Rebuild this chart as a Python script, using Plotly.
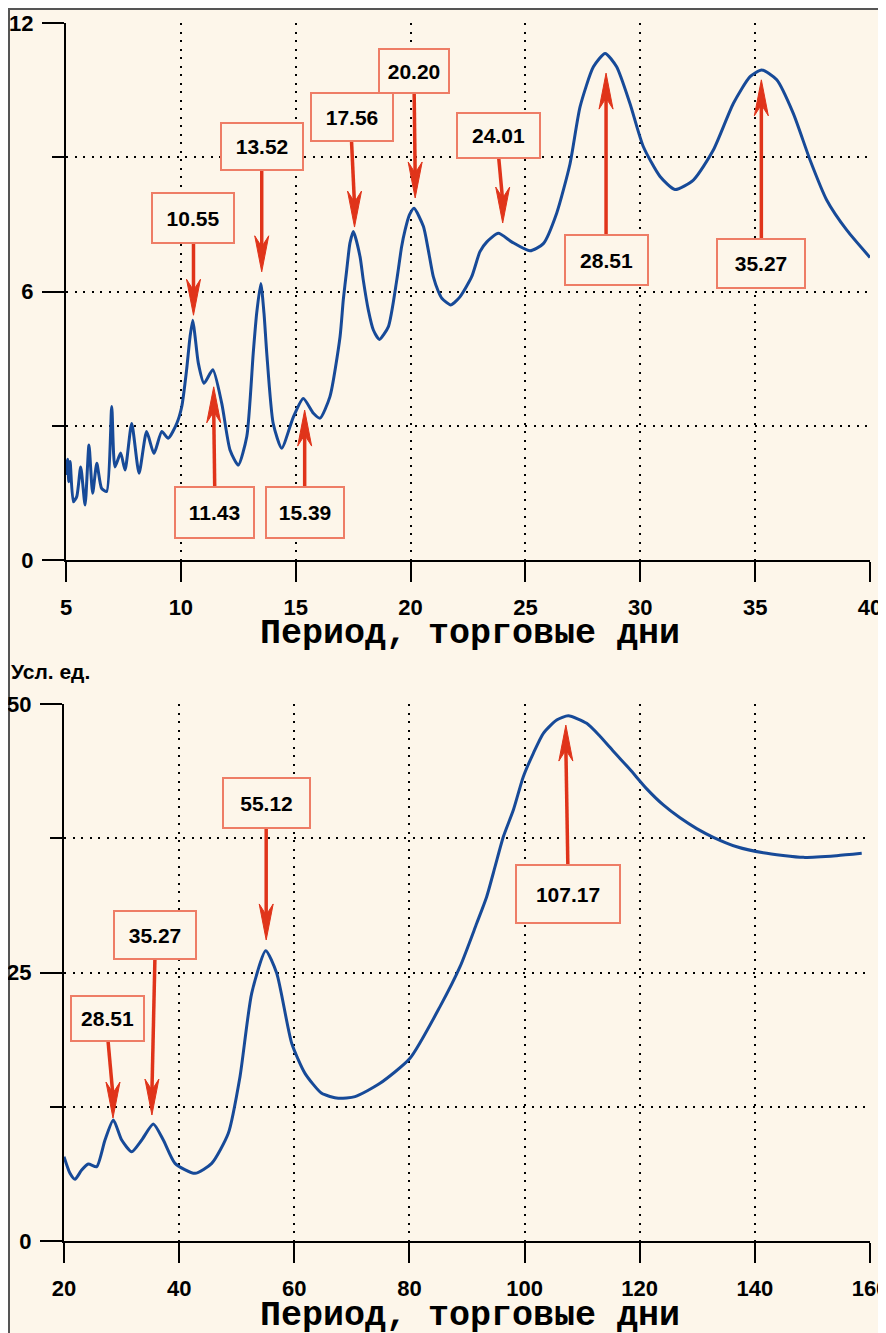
import plotly.graph_objects as go

# ---------------- data ----------------
top_period = [5.00, 5.07, 5.12, 5.18, 5.32, 5.47, 5.64, 5.83, 6.00, 6.16, 6.34, 6.55, 6.77,
              6.99, 7.13, 7.38, 7.57, 7.86, 8.18, 8.51, 8.83, 9.17, 9.45, 9.82, 10.04,
              10.25, 10.40, 10.52, 10.62, 10.76, 11.01, 11.39, 11.78, 12.14, 12.50, 12.87,
              13.15, 13.30, 13.48, 13.62, 13.74, 14.02, 14.39, 14.90, 15.33, 15.77, 16.06,
              16.49, 16.93, 17.07, 17.22, 17.36, 17.51, 17.80, 17.94, 18.16, 18.38, 18.64,
              19.03, 19.40, 19.61, 19.76, 19.95, 20.15, 20.56, 20.77, 20.99, 21.21, 21.36,
              21.75, 22.15, 22.66, 23.02, 23.32, 23.82, 24.40, 25.20, 25.78, 26.36, 26.94,
              27.38, 27.96, 28.47, 28.97, 29.55, 30.13, 30.86, 31.51, 32.31, 33.18, 34.05,
              34.78, 35.29, 35.94, 36.66, 37.39, 38.12, 38.99, 40.00]
top_power = [1.90, 2.25, 1.75, 2.20, 1.30, 1.42, 2.08, 1.23, 2.57, 1.49, 2.16, 1.60, 1.53,
             3.43, 2.08, 2.39, 2.01, 3.05, 1.94, 2.87, 2.38, 2.87, 2.72, 3.05, 3.43,
             4.25, 4.99, 5.36, 4.99, 4.40, 3.95, 4.25, 3.50, 2.46, 2.12, 2.76,
             4.62, 5.51, 6.18, 5.51, 4.62, 3.05, 2.50, 3.20, 3.61, 3.28, 3.17,
             3.65, 4.99, 5.81, 6.48, 7.08, 7.34, 6.78, 6.26, 5.59, 5.14, 4.93,
             5.21, 6.26, 7.00, 7.37, 7.71, 7.86, 7.45, 6.93, 6.33, 6.00, 5.85,
             5.70, 5.88, 6.33, 6.89, 7.11, 7.30, 7.11, 6.91, 7.07, 7.75, 8.85,
             10.13, 11.02, 11.32, 11.02, 10.20, 9.24, 8.57, 8.28, 8.49, 9.16, 10.20,
             10.80, 10.95, 10.73, 9.98, 8.94, 8.04, 7.37, 6.76]

bot_period = [20.00, 21.04, 21.91, 23.07, 24.22, 25.68, 27.12, 28.57, 30.02, 31.76, 33.50,
              35.51, 37.25, 39.28, 42.75, 45.66, 48.54, 50.57, 52.60, 55.04, 56.95, 59.55,
              61.86, 64.76, 67.65, 70.55, 74.89, 80.10, 85.31, 88.79, 91.69, 93.42, 94.87,
              96.31, 98.05, 99.78, 101.52, 103.26, 105.58, 107.60, 110.79, 113.10, 115.42,
              118.32, 121.22, 124.10, 127.00, 129.90, 132.79, 136.85, 141.47, 148.42,
              154.22, 158.56]
bot_power = [7.85, 6.30, 5.74, 6.61, 7.17, 6.92, 9.40, 11.27, 9.40, 8.31, 9.40,
             10.89, 9.40, 7.23, 6.30, 7.23, 10.03, 15.30, 23.06, 27.03, 24.93, 18.41,
             15.61, 13.75, 13.29, 13.44, 14.68, 17.01, 21.82, 25.54, 29.58, 32.06, 34.85,
             37.64, 40.13, 43.23, 45.41, 47.27, 48.51, 48.91, 48.20, 47.00, 45.60,
             43.90, 42.10, 40.60, 39.40, 38.40, 37.59, 36.71, 36.15, 35.72,
             35.88, 36.10]

top_labels = ["10.55", "13.52", "17.56", "20.20", "24.01", "28.51", "35.27", "11.43", "15.39"]
top_label_x = [10.55, 13.52, 17.56, 20.20, 24.01, 28.51, 35.27, 11.43, 15.39]
top_tip_y = [5.47, 6.44, 7.44, 8.09, 7.53, 10.88, 10.73, 3.87, 3.35]

bot_labels = ["28.51", "35.27", "55.12", "107.17"]
bot_label_x = [28.51, 35.27, 55.12, 107.17]
bot_tip_y = [11.45, 11.73, 28.03, 48.04]

x_title = "Период, торговые дни"
y_unit = "Усл. ед."

# ---------------- styling ----------------
OFF = 8                       # the page body margin of the browser
W, H = 886 - OFF, 1333 - OFF  # figure size so that it fills the window


def px(v):
    return (v - OFF) / W


def py(v):
    return 1 - (v - OFF) / H


CREAM = "#FDF6EA"
BLUE = "#174A98"
RED = "#E0341A"
BOXC = "#EE7D66"
TICKFONT = dict(family="Liberation Sans", size=22, color="black", weight="bold")
LABFONT = dict(family="Liberation Sans", size=21, color="black", weight="bold")
DOT = "2px,6.5px"

# box centre offsets from arrow tip (px, +y up) and box sizes
top_box_off = [(0, 97), (0, 125), (-3, 110), (-1, 127), (-4, 88), (0, -187), (0, -184), (1, -126), (0, -102)]
top_box_size = [(82, 50), (82, 47), (82, 48), (70, 44), (83, 45), (83, 50), (88, 49), (79, 51), (78, 51)]
bot_box_off = [(-5, 100), (3, 180), (0, 137), (2, -169)]
bot_box_size = [(73, 45), (82, 48), (87, 50), (104, 58)]

fig = go.Figure()
fig.add_trace(go.Scatter(x=top_period, y=top_power, mode="lines", xaxis="x", yaxis="y",
                         line=dict(color=BLUE, width=3, shape="spline", smoothing=0.6),
                         hoverinfo="skip", showlegend=False))
fig.add_trace(go.Scatter(x=bot_period, y=bot_power, mode="lines", xaxis="x2", yaxis="y2",
                         line=dict(color=BLUE, width=3, shape="spline", smoothing=0.6),
                         hoverinfo="skip", showlegend=False))

common_x = dict(ticks="outside", ticklen=20, tickwidth=2, tickcolor="black",
                showline=True, linecolor="black", linewidth=2, mirror=False,
                showgrid=True, gridcolor="black", gridwidth=2, griddash=DOT,
                zeroline=False, tickfont=TICKFONT, ticklabelstandoff=7, automargin=False,
                ticklabeloverflow="allow")
common_y = dict(ticks="outside", ticklen=22, tickwidth=2, tickcolor="black",
                showline=True, linecolor="black", linewidth=2,
                showgrid=True, gridcolor="black", gridwidth=2, griddash=DOT,
                zeroline=False, tickfont=TICKFONT, ticklabelstandoff=4, automargin=False,
                ticklabeloverflow="allow")

fig.update_layout(
    width=W, height=H, margin=dict(l=0, r=0, t=0, b=0, pad=0), autosize=False,
    paper_bgcolor=CREAM, plot_bgcolor="rgba(0,0,0,0)",
    xaxis=dict(domain=[px(66), px(870)], anchor="y", range=[5, 40], tick0=5, dtick=5, **common_x),
    yaxis=dict(domain=[py(560), py(23)], anchor="x", range=[0, 12], tick0=0, dtick=6,
               minor=dict(dtick=3, ticks="outside", ticklen=12, tickwidth=2, tickcolor="black",
                          showgrid=True, gridcolor="black", gridwidth=2, griddash=DOT),
               **common_y),
    xaxis2=dict(domain=[px(64), px(870)], anchor="y2", range=[20, 160], tick0=20, dtick=20, **common_x),
    yaxis2=dict(domain=[py(1241), py(704)], anchor="x2", range=[0, 50], tick0=0, dtick=25,
                minor=dict(dtick=12.5, ticks="outside", ticklen=12, tickwidth=2, tickcolor="black",
                           showgrid=True, gridcolor="black", gridwidth=2, griddash=DOT),
                **common_y),
)

# page frame (top and left edges)
fig.add_shape(type="line", xref="paper", yref="paper", x0=0, x1=1, y0=1 - 1 / H, y1=1 - 1 / H,
              line=dict(color="#555555", width=2), layer="below")
fig.add_shape(type="line", xref="paper", yref="paper", x0=1 / W, x1=1 / W, y0=0, y1=1,
              line=dict(color="#555555", width=2), layer="below")


def add_marker(xr, yr, x, y, text, off, size):
    dx, dy = off
    w, h = size
    fig.add_annotation(x=x, y=y, xref=xr, yref=yr, text=text, showarrow=False,
                       xshift=dx, yshift=dy, width=w - 2, height=h - 2,
                       bgcolor=CREAM, bordercolor=BOXC, borderwidth=2, borderpad=0,
                       font=LABFONT, xanchor="center", yanchor="middle")
    s = 1 if dy > 0 else -1
    edge = dy - s * h / 2
    fig.add_shape(type="line", xref=xr, yref=yr, xsizemode="pixel", ysizemode="pixel",
                  xanchor=x, yanchor=y, x0=0, y0=s * 22, x1=dx, y1=edge,
                  line=dict(color=RED, width=3.5))
    fig.add_shape(type="path", xref=xr, yref=yr, xsizemode="pixel", ysizemode="pixel",
                  xanchor=x, yanchor=y,
                  path=f"M0,0 L-7,{s * 36} L0,{s * 25} L7,{s * 36} Z",
                  fillcolor=RED, line=dict(color=RED, width=1))


for t, x, y, o, sz in zip(top_labels, top_label_x, top_tip_y, top_box_off, top_box_size):
    add_marker("x", "y", x, y, t, o, sz)
for t, x, y, o, sz in zip(bot_labels, bot_label_x, bot_tip_y, bot_box_off, bot_box_size):
    add_marker("x2", "y2", x, y, t, o, sz)

TITLEFONT = dict(family="Liberation Mono", size=35, color="black", weight="bold")
fig.add_annotation(xref="paper", yref="paper", x=px(470), y=py(634), text=x_title,
                   showarrow=False, font=TITLEFONT, xanchor="center", yanchor="middle")
fig.add_annotation(xref="paper", yref="paper", x=px(470), y=py(1316), text=x_title,
                   showarrow=False, font=TITLEFONT, xanchor="center", yanchor="middle")
fig.add_annotation(xref="paper", yref="paper", x=px(9), y=py(671), text=y_unit,
                   showarrow=False, font=dict(family="Liberation Sans", size=21, color="black", weight="bold"),
                   xanchor="left", yanchor="middle")

fig.write_html("out.html")
